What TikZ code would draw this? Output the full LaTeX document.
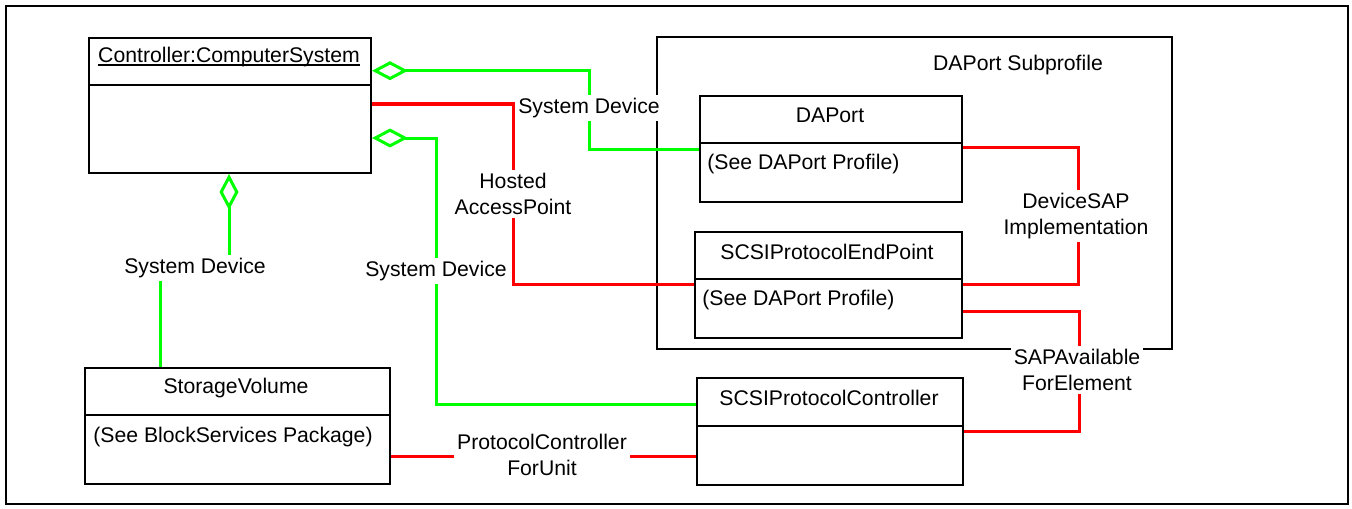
\documentclass[tikz,border=0pt]{standalone}
\usepackage{fontspec}
\setmainfont{Liberation Sans}
\usetikzlibrary{arrows.meta,calc}
\definecolor{lgreen}{RGB}{0,255,0}
\definecolor{lred}{RGB}{255,0,0}
\begin{document}
\begin{tikzpicture}[x=0.5pt,y=-0.5pt,
  box/.style={draw=black,line width=1pt,anchor=north west,inner sep=0pt,fill=white},
  txt/.style={inner sep=0pt,font=\fontsize{10.6}{13}\selectfont},
  lab/.style={fill=white,inner sep=1.5pt,align=center,font=\fontsize{10.6}{13}\selectfont},
  gline/.style={draw=lgreen,line width=1.5pt},
  rline/.style={draw=lred,line width=1.5pt},
  agg/.style={{Diamond[open,fill=white,length=18pt,width=9.5pt]}-}]
\useasboundingbox (0,0) rectangle (1352,508);
\node[box,minimum width=671pt,minimum height=249pt,fill=none] (frame) at (5,5) {};
% subprofile
\node[box,minimum width=257.5pt,minimum height=156pt,fill=none] (sub) at (656,36) {};
\node[txt] (subl) at (1018,65) {DAPort Subprofile};
% boxes
\node[box,minimum width=141pt,minimum height=67.5pt] (ctrl) at (88,37) {};
\node[box,minimum width=152.5pt,minimum height=58pt] (sv) at (84,367) {};
\node[box,minimum width=133pt,minimum height=53.5pt] (spc) at (696,377) {};
\node[box,minimum width=131pt,minimum height=53pt] (dap) at (699,95) {};
\node[box,minimum width=133.5pt,minimum height=53pt] (spep) at (694,231) {};
% dividers
\draw[line width=1pt] ($(ctrl.north west)+(0,48)$) -- ($(ctrl.north east)+(0,48)$);
\draw[line width=1pt] ($(sv.north west)+(0,48)$) -- ($(sv.north east)+(0,48)$);
\draw[line width=1pt] ($(spc.north west)+(0,49)$) -- ($(spc.north east)+(0,49)$);
\draw[line width=1pt] ($(dap.north west)+(0,48)$) -- ($(dap.north east)+(0,48)$);
\draw[line width=1pt] ($(spep.north west)+(0,48)$) -- ($(spep.north east)+(0,48)$);
% titles
\node[txt] (ctrlt) at (229,57) {Controller:ComputerSystem};
\draw[line width=0.6pt] ($(ctrlt.base west)+(0,2.5)$) -- ($(ctrlt.base east)+(0,2.5)$);
\node[txt] (svt) at (236,388) {StorageVolume};
\node[txt] (svb) at (233,437) {(See BlockServices Package)};
\node[txt] (spct) at (829,398) {SCSIProtocolController};
\node[txt] (dapt) at (830,115) {DAPort};
\node[txt,anchor=west] (dapb) at (707,164) {(See DAPort Profile)};
\node[txt] (spept) at (827,252) {SCSIProtocolEndPoint};
\node[txt,anchor=west] (spepb) at (702,300) {(See DAPort Profile)};
% connectors
\draw[gline,agg] ($(ctrl.north east)+(0,33.7)$) -| ($(dap.west)+(-110,0)$) -- (dap.west);
\draw[rline] ($(ctrl.north east)+(0,67)$) -| ($(spep.north west)+(-181,53)$) -- ($(spep.north west)+(0,53)$);
\draw[gline,agg] ($(ctrl.north east)+(0,101)$) -| ($(spc.north west)+(-260,27)$) -- ($(spc.north west)+(0,27)$);
\draw[gline,agg] ($(ctrl.south west)+(141,0)$) -- ++(0,96) -| ($(sv.north west)+(76,0)$);
\draw[rline] ($(dap.north east)+(0,52)$) -| ($(spep.north east)+(115,53)$) -- ($(spep.north east)+(0,53)$);
\draw[rline] ($(spep.north east)+(0,80)$) -| ($(spc.north east)+(115,54)$) -- ($(spc.north east)+(0,54)$);
\draw[rline] ($(sv.north east)+(0,89)$) -- ($(spc.north west)+(0,79)$);
% labels
\node[lab] (l1) at (589,108) {System Device};
\node[lab] (l2) at (513,194) {Hosted\\AccessPoint};
\node[lab] (l3) at (436,271) {System Device};
\node[lab] (l4) at (195,268) {System Device};
\node[lab] (l5) at (1076,216) {DeviceSAP\\Implementation};
\node[lab] (l6) at (1077,370) {SAPAvailable\\ForElement};
\node[lab] (l7) at (542,455) {ProtocolController\\ForUnit};
\end{tikzpicture}
\end{document}
